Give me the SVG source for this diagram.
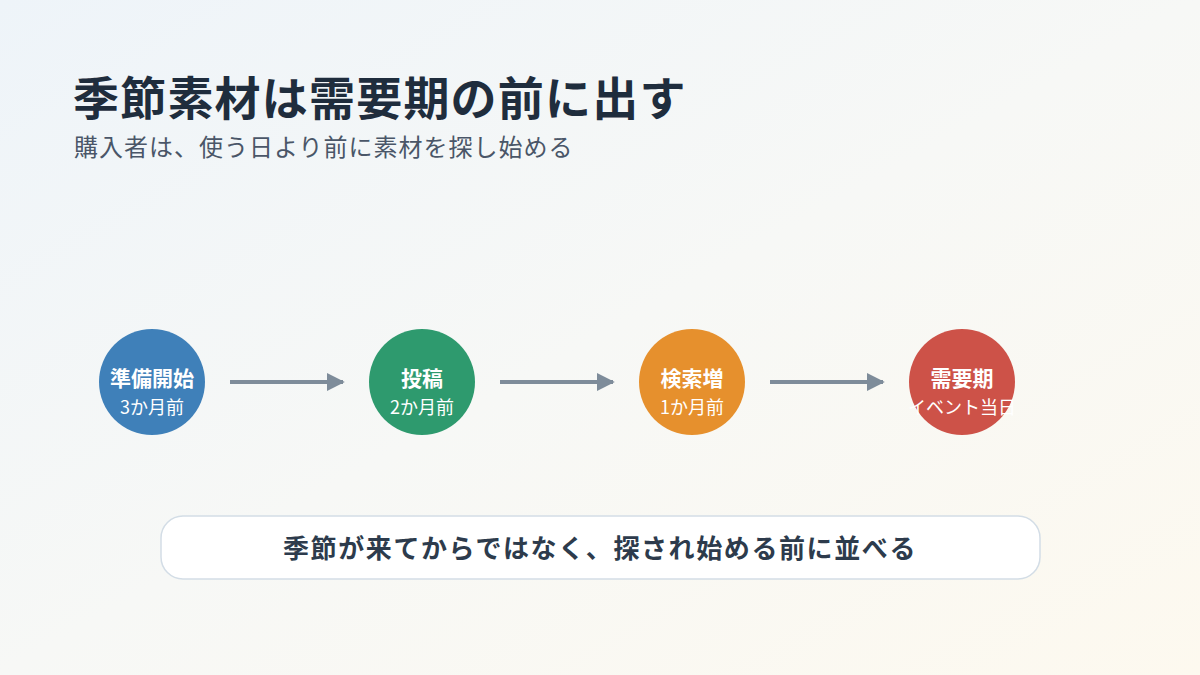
<svg xmlns="http://www.w3.org/2000/svg" width="1200" height="675" viewBox="0 0 1200 675">
<defs>
<linearGradient id="bg" x1="0" y1="0" x2="1" y2="1">
<stop offset="0" stop-color="#eef4f9"/>
<stop offset="0.5" stop-color="#f7f8f6"/>
<stop offset="1" stop-color="#fdf9ef"/>
</linearGradient>
<marker id="arr" viewBox="0 0 10 10" refX="9" refY="5" markerWidth="4.5" markerHeight="4.5" orient="auto" markerUnits="strokeWidth">
<path d="M0,0 L10,5 L0,10 z" fill="#7e8c9a"/>
</marker>
<style>
text{font-family:"Noto Sans CJK JP","Noto Sans",sans-serif}
.t{font-size:21px;font-weight:700;fill:#fff;text-anchor:middle}
.s{font-size:18px;fill:#fff;text-anchor:middle}
.c{stroke:#7e8c9a;stroke-width:4;fill:none}
</style>
</defs>
<rect width="1200" height="675" fill="url(#bg)"/>
<g id="title">
<text x="73" y="115" font-size="46" font-weight="700" fill="#1f2d3d" letter-spacing="1.2">季節素材は需要期の前に出す</text>
<text x="74" y="156" font-size="24" fill="#4a5668" letter-spacing="1">購入者は、使う日より前に素材を探し始める</text>
</g>
<g id="connectors">
<line class="c" x1="230" y1="382" x2="343" y2="382" marker-end="url(#arr)"/>
<line class="c" x1="500" y1="382" x2="613" y2="382" marker-end="url(#arr)"/>
<line class="c" x1="770" y1="382" x2="883" y2="382" marker-end="url(#arr)"/>
</g>
<g id="n1">
<circle cx="152" cy="382" r="53" fill="#3f80b9"/>
<text class="t" x="152" y="386">準備開始</text>
<text class="s" x="152" y="414">3か月前</text>
</g>
<g id="n2">
<circle cx="422" cy="382" r="53" fill="#2e9a6e"/>
<text class="t" x="422" y="386">投稿</text>
<text class="s" x="422" y="414">2か月前</text>
</g>
<g id="n3">
<circle cx="692" cy="382" r="53" fill="#e6902d"/>
<text class="t" x="692" y="386">検索増</text>
<text class="s" x="692" y="414">1か月前</text>
</g>
<g id="n4">
<circle cx="962" cy="382" r="53" fill="#cd5248"/>
<text class="t" x="962" y="386">需要期</text>
<text class="s" x="962" y="414">イベント当日</text>
</g>
<g id="callout">
<rect x="161" y="516" width="879" height="63" rx="22" fill="#ffffff" stroke="#d3dde6" stroke-width="1.5"/>
<text x="600" y="558" font-size="26" font-weight="700" fill="#2d3b4c" text-anchor="middle" letter-spacing="1.6">季節が来てからではなく、探され始める前に並べる</text>
</g>
</svg>
